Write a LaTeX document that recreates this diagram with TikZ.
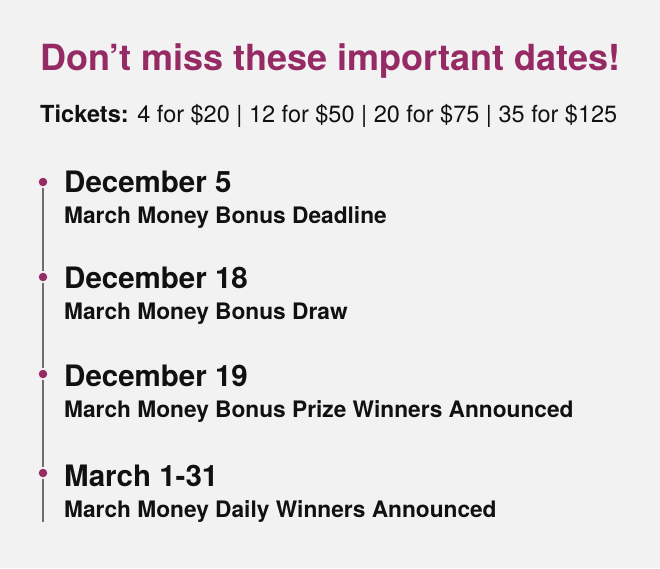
\documentclass[tikz,border=0pt]{standalone}
\usepackage{fontspec}
\setmainfont{TeX Gyre Heros}
\usepackage{tikz}
\usetikzlibrary{positioning}
\definecolor{pagebg}{HTML}{F2F2F2}
\definecolor{brandplum}{HTML}{952A64}
\definecolor{railgray}{HTML}{6E6E6E}
\definecolor{bodyblack}{HTML}{111111}

\begin{document}
\begin{tikzpicture}[x=1pt,y=-1pt,
    datedot/.style={circle, fill=brandplum, inner sep=0pt, minimum size=8.5pt, outer sep=1.8pt},
    datehead/.style={anchor=base west, inner sep=0pt, font=\fontsize{29.5}{31}\selectfont\bfseries, text=bodyblack},
    datenote/.style={anchor=base west, inner sep=0pt, font=\fontsize{22.7}{24}\selectfont\bfseries, text=bodyblack}]
    % Background
    \fill[pagebg] (0,0) rectangle (660,568);
    \useasboundingbox (0,0) rectangle (660,568);

    % Title
    \node[anchor=base west, inner sep=0pt, font=\fontsize{36}{38}\selectfont\bfseries, text=brandplum] (title) at (40,70) {Don’t miss these important dates!};

    % Ticket prices
    \node[anchor=base west, inner sep=0pt, font=\fontsize{23.5}{26}\selectfont, text=bodyblack] (tickets) at (40,122) {\textbf{Tickets:} 4 for \$20 | 12 for \$50 | 20 for \$75 | 35 for \$125};

    % Timeline entries
    \foreach \i/\dy/\hy/\head/\note in {
        1/182/192/December 5/March Money Bonus Deadline,
        2/277/288/December 18/March Money Bonus Draw,
        3/374/386/December 19/March Money Bonus Prize Winners Announced,
        4/473/486/March 1-31/March Money Daily Winners Announced} {
        \node[datedot] (dot\i) at (43,\dy) {};
        \node[datehead] (head\i) at (64,\hy) {\head};
        \node[datenote] (note\i) at (64,\hy+31) {\note};
    }

    % Rail
    \coordinate (railend) at (43,522);
    \draw[railgray, line width=1.2pt] (dot1) -- (dot2) -- (dot3) -- (dot4) -- (railend);
\end{tikzpicture}
\end{document}
